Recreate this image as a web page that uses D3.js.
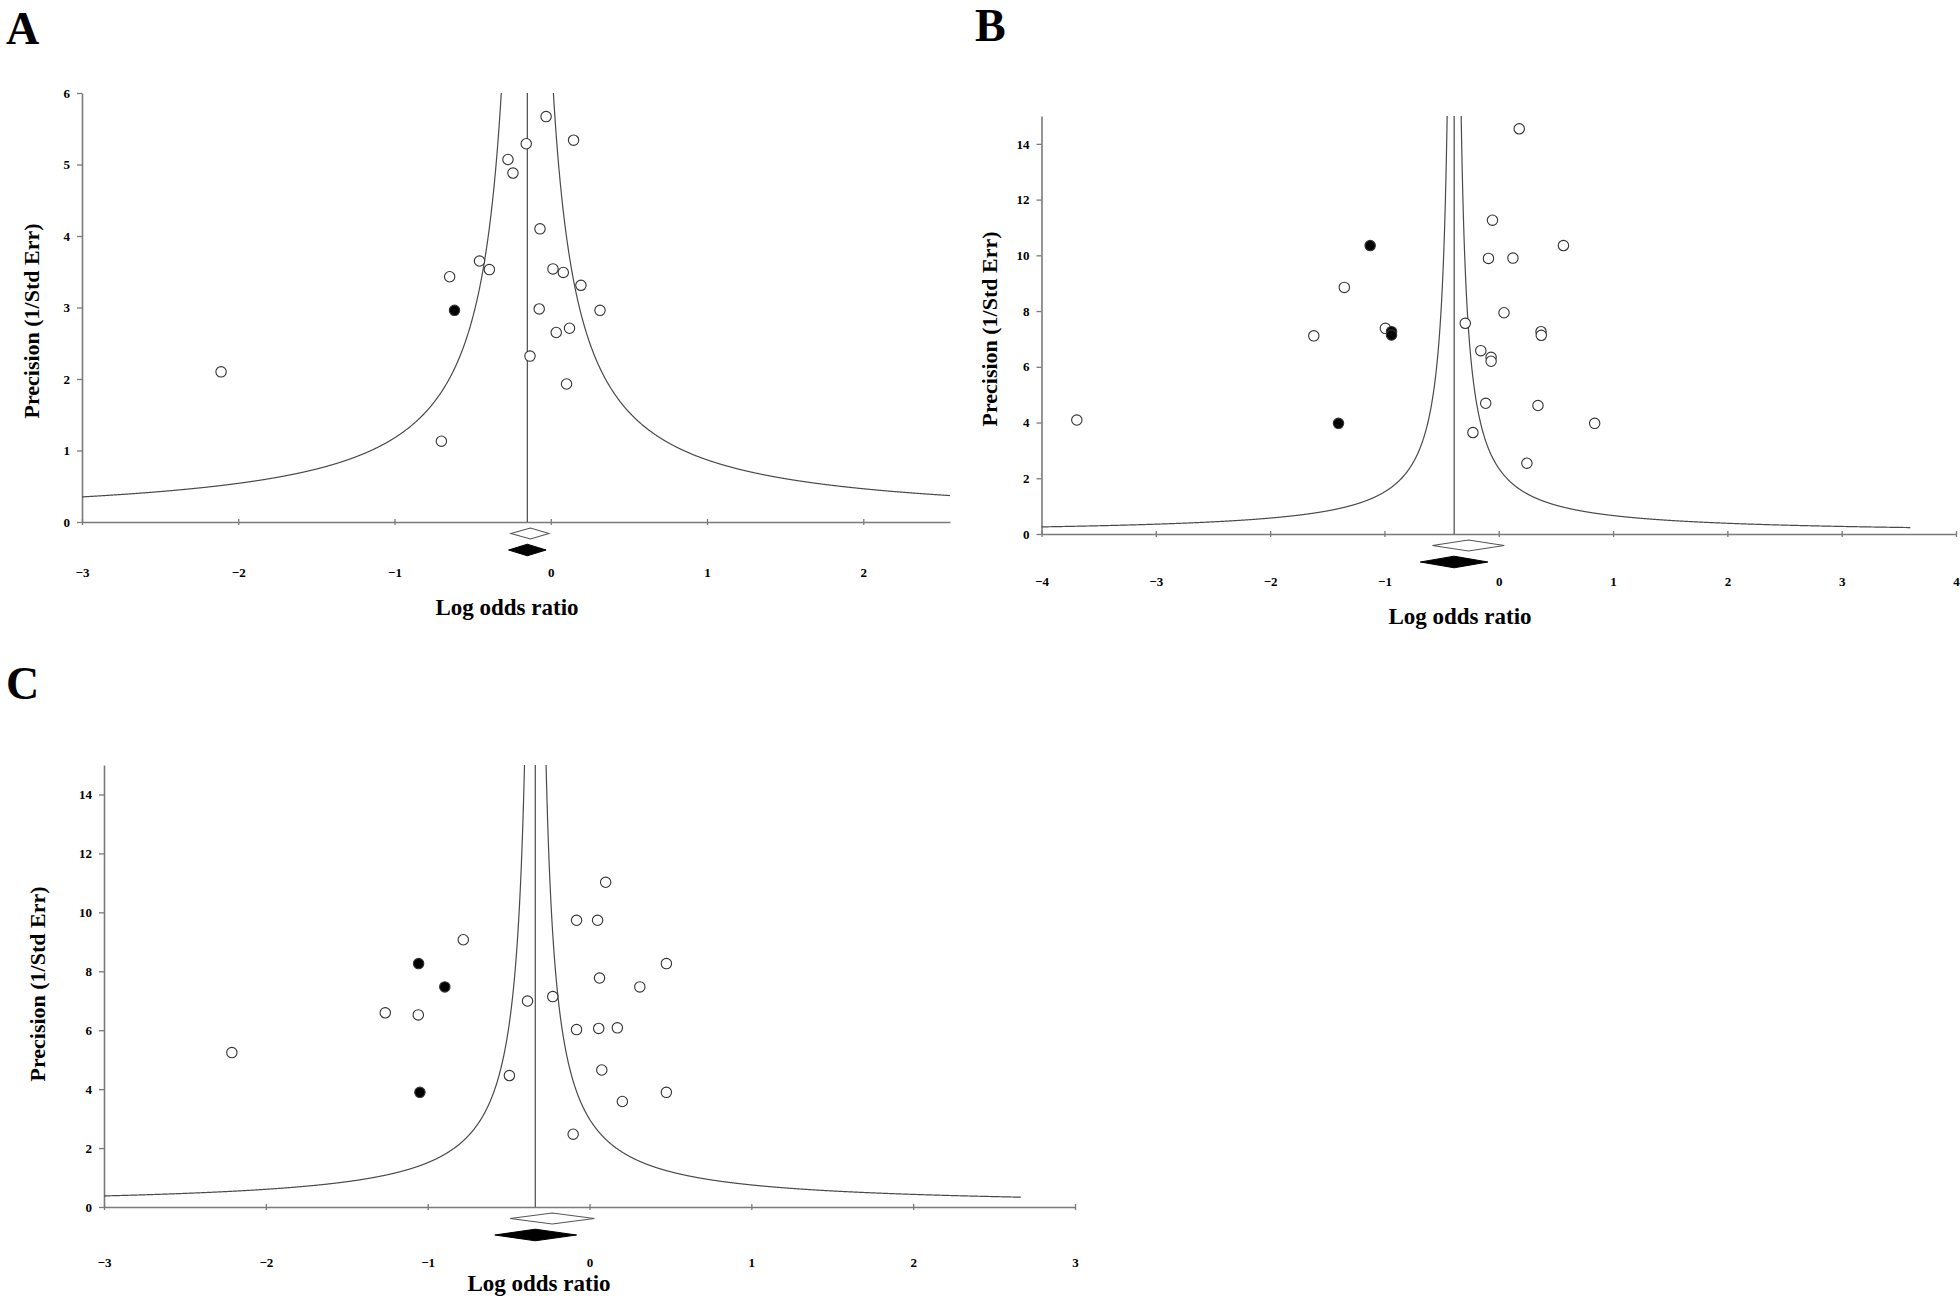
<!DOCTYPE html>
<html><head><meta charset="utf-8">
<script src="https://cdn.jsdelivr.net/npm/d3@7"></script>
<style>
body{margin:0;background:#fff}
svg{display:block}
text{font-family:"Liberation Serif","Times New Roman",serif;font-weight:bold;fill:#000}
</style>
</head><body>
<svg id="chart" width="1960" height="1298"></svg>
<script>
// ---------- Panel A data ----------
const aLogOR     = [-0.03, 0.146, -0.157, -0.274, -0.242, -0.069, -0.456, -0.393, -0.647, 0.014, 0.080, 0.193, -0.616, -0.074, 0.315, 0.035, 0.120, -0.133, -2.11, 0.101, -0.70];
const aPrecision = [5.67, 5.34, 5.29, 5.07, 4.88, 4.10, 3.65, 3.53, 3.43, 3.54, 3.49, 3.31, 2.96, 2.98, 2.96, 2.65, 2.71, 2.32, 2.10, 1.93, 1.13];
const aImputed   = [0,0,0,0,0,0,0,0,0,0,0,0,1,0,0,0,0,0,0,0,0];
const aObserved  = [-0.255, -0.13, -0.012];   // lower, point, upper
const aAdjusted  = [-0.27, -0.15, -0.03];
const aXTicks = [-3,-2,-1,0,1,2];
const aYTicks = [0,1,2,3,4,5,6];

// ---------- Panel B data ----------
const bLogOR     = [0.179, -0.055, -1.125, 0.566, -0.090, 0.124, -1.351, 0.046, -0.293, -0.992, -0.938, -0.938, -1.618, 0.370, 0.372, -0.157, -0.067, -0.067, -0.114, 0.343, -3.691, -1.402, 0.839, -0.226, 0.246];
const bPrecision = [14.54, 11.26, 10.35, 10.35, 9.89, 9.90, 8.85, 7.94, 7.56, 7.38, 7.26, 7.14, 7.11, 7.26, 7.13, 6.58, 6.34, 6.20, 4.69, 4.61, 4.09, 3.97, 3.97, 3.64, 2.54];
const bImputed   = [0,0,1,0,0,0,0,0,0,0,1,1,0,0,0,0,0,0,0,0,0,1,0,0,0];
const bObserved  = [-0.58, -0.265, 0.048];
const bAdjusted  = [-0.686, -0.39, -0.095];
const bXTicks = [-4,-3,-2,-1,0,1,2,3,4];
const bYTicks = [0,2,4,6,8,10,12,14];

// ---------- Panel C data ----------
const cLogOR     = [0.100, -0.080, 0.050, -0.780, -1.056, 0.475, 0.062, -0.894, 0.311, -0.227, -0.383, -1.262, -1.058, -0.080, 0.057, 0.172, -2.210, 0.076, -0.495, -1.048, 0.475, 0.203, -0.101];
const cPrecision = [11.02, 9.73, 9.73, 9.07, 8.26, 8.26, 7.77, 7.47, 7.47, 7.14, 6.99, 6.59, 6.52, 6.02, 6.06, 6.08, 5.24, 4.65, 4.46, 3.89, 3.89, 3.58, 2.47];
const cImputed   = [0,0,0,0,1,0,0,1,0,0,0,0,0,0,0,0,0,0,0,1,0,0,0];
const cObserved  = [-0.49, -0.23, 0.03];
const cAdjusted  = [-0.585, -0.335, -0.08];
const cXTicks = [-3,-2,-1,0,1,2,3];
const cYTicks = [0,2,4,6,8,10,12,14];

const xTitle = "Log odds ratio";
const yTitle = "Precision (1/Std Err)";

// ---------- layout ----------
const panels = [
  {letter:"A", lx:6, ly:44, left:82, right:950, top:93, bottom:522, xDom:[-3,2.555], yDom:[0,6],
   xs:aLogOR, ys:aPrecision, imp:aImputed, obs:aObserved, adj:aAdjusted, xt:aXTicks, yt:aYTicks,
   funnelK:1.0, funnelEnd:[-3,2.555], ytX:34, ytY:321, xlY:572, xtX:507, xtY:610},
  {letter:"B", lx:975, ly:41, left:1041.5, right:1956, top:116, bottom:534, xDom:[-4,4], yDom:[0,15],
   xs:bLogOR, ys:bPrecision, imp:bImputed, obs:bObserved, adj:bAdjusted, xt:bXTicks, yt:bYTicks,
   funnelK:0.92, funnelEnd:[-4,3.6], ytX:992, ytY:329, xlY:581, xtX:1460, xtY:619},
  {letter:"C", lx:6, ly:699, left:104, right:1075, top:765, bottom:1207, xDom:[-3,3], yDom:[0,15],
   xs:cLogOR, ys:cPrecision, imp:cImputed, obs:cObserved, adj:cAdjusted, xt:cXTicks, yt:cYTicks,
   funnelK:1.0, funnelEnd:[-3,2.665], ytX:40, ytY:984, xlY:1262, xtX:539, xtY:1286}
];

const svg = d3.select("#chart");
const axisColor = "#7a7a7a";
const lineColor = "#4a4a4a";

panels.forEach(p => {
  const x = d3.scaleLinear().domain(p.xDom).range([p.left, p.right]);
  const y = d3.scaleLinear().domain(p.yDom).range([p.bottom, p.top]);
  const g = svg.append("g");

  // panel letter
  svg.append("text").attr("x", p.lx).attr("y", p.ly).attr("font-size", 46).text(p.letter);

  // x axis
  const xa = g.append("g").attr("transform", `translate(0,${p.bottom})`)
    .call(d3.axisBottom(x).tickValues(p.xt).tickSize(3).tickSizeOuter(0).tickPadding(0).tickFormat(d3.format("d")));
  xa.select(".domain").attr("stroke", axisColor).attr("stroke-width", 1.6);
  xa.selectAll(".tick line").attr("y1", -3).attr("y2", 3).attr("stroke", axisColor).attr("stroke-width", 1.3);
  xa.selectAll(".tick text").attr("y", p.xlY - p.bottom).attr("dy", "0.35em")
    .attr("font-size", 13).attr("font-family", null).attr("fill", "#000");

  // y axis
  const ya = g.append("g").attr("transform", `translate(${p.left},0)`)
    .call(d3.axisLeft(y).tickValues(p.yt).tickSize(5).tickSizeOuter(0).tickPadding(7).tickFormat(d3.format("d")));
  ya.select(".domain").attr("stroke", axisColor).attr("stroke-width", 1.6);
  ya.selectAll(".tick line").attr("stroke", axisColor).attr("stroke-width", 1.3);
  ya.selectAll(".tick text").attr("font-size", 13).attr("font-family", null).attr("fill", "#000");

  // titles
  svg.append("text").attr("x", p.xtX).attr("y", p.xtY)
    .attr("text-anchor", "middle").attr("dominant-baseline", "middle").attr("font-size", 23).text(xTitle);
  svg.append("text").attr("transform", `translate(${p.ytX},${p.ytY}) rotate(-90)`)
    .attr("text-anchor", "middle").attr("dominant-baseline", "middle").attr("font-size", 22).text(yTitle);

  // funnel
  const c = p.adj[1];
  const yMax = p.yDom[1];
  const minD = p.funnelK / yMax;
  const leftXs = d3.range(p.funnelEnd[0], c - minD, 0.002).concat([c - minD]);
  const rightXs = [c + minD].concat(d3.range(c + minD + 0.002, p.funnelEnd[1], 0.002)).concat([p.funnelEnd[1]]);
  const line = d3.line().x(d => x(d)).y(d => y(Math.min(yMax, p.funnelK / Math.abs(d - c))));
  g.append("path").attr("d", line(leftXs)).attr("fill", "none").attr("stroke", lineColor).attr("stroke-width", 1.2);
  g.append("path").attr("d", line(rightXs)).attr("fill", "none").attr("stroke", lineColor).attr("stroke-width", 1.2);
  g.append("line").attr("x1", x(c)).attr("x2", x(c)).attr("y1", y(0)).attr("y2", y(yMax))
    .attr("stroke", lineColor).attr("stroke-width", 1.2);

  // diamonds
  const diamond = (est, cy, h) => `M${x(est[0])},${cy} L${x(est[1])},${cy - h} L${x(est[2])},${cy} L${x(est[1])},${cy + h} Z`;
  g.append("path").attr("d", diamond(p.obs, p.bottom + 11.5, 5.5)).attr("fill", "#fff").attr("stroke", "#555").attr("stroke-width", 1.1);
  g.append("path").attr("d", diamond(p.adj, p.bottom + 28, 5.8)).attr("fill", "#000").attr("stroke", "#000").attr("stroke-width", 1);

  // points
  const pts = p.xs.map((v, i) => ({x: v, y: p.ys[i], f: p.imp[i]}));
  g.selectAll("circle.pt").data(pts).join("circle").attr("class", "pt")
    .attr("cx", d => x(d.x)).attr("cy", d => y(d.y)).attr("r", 5.2)
    .attr("fill", d => d.f ? "#000" : "#fff").attr("stroke", "#333").attr("stroke-width", 1.1);
});
</script>
</body></html>
